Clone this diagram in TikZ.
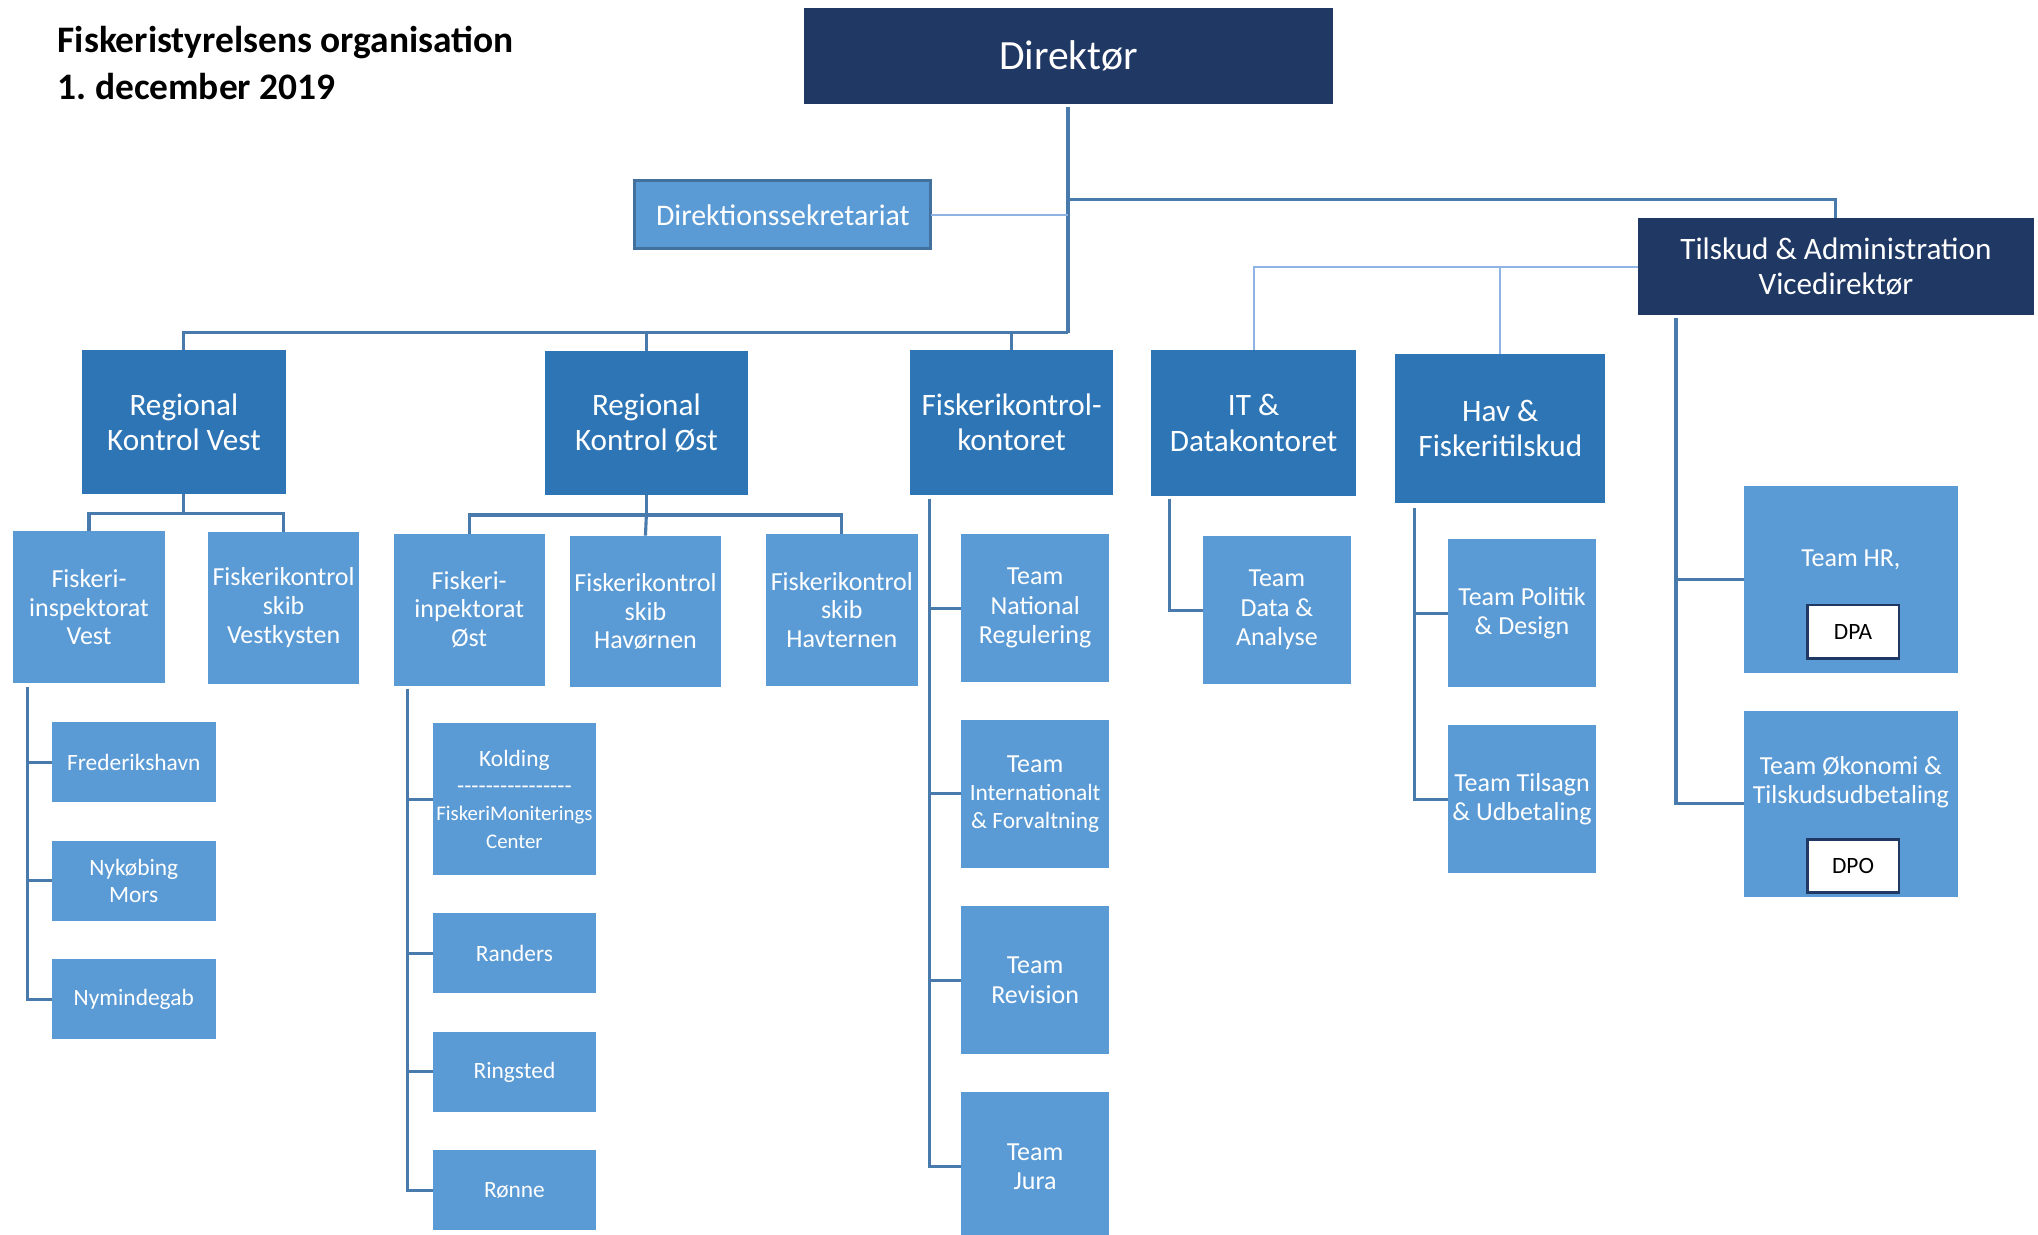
\documentclass[tikz,border=0pt]{standalone}
\usepackage{fontspec}
\setmainfont{Carlito}
\newfontfamily\dashfont{Carlito}

\definecolor{navy}{RGB}{32,56,100}
\definecolor{midblue}{RGB}{46,117,182}
\definecolor{lightblue}{RGB}{91,155,213}
\definecolor{linkblue}{RGB}{72,122,172}
\definecolor{paleblue}{RGB}{143,180,227}
\definecolor{edgeblue}{RGB}{65,113,156}

\tikzset{
  box/.style={inner sep=0pt, outer sep=0pt, align=center, text=white},
  navybox/.style={box, fill=navy},
  midbox/.style={box, fill=midblue, minimum width=78.3pt, minimum height=55.6pt,
    font=\fontsize{12}{13.5}\selectfont},
  subbox/.style={box, fill=lightblue, minimum width=58.2pt, minimum height=58.4pt,
    font=\fontsize{10}{11}\selectfont},
  locbox/.style={box, fill=lightblue, minimum width=63pt, minimum height=30.9pt,
    font=\fontsize{9}{10.5}\selectfont},
  teambox/.style={box, fill=lightblue, minimum width=57pt, minimum height=57pt,
    font=\fontsize{10}{11.3}\selectfont},
  tagbox/.style={inner sep=0pt, fill=white, draw=navy, line width=1pt, text=black,
    minimum width=35.2pt, minimum height=20.4pt, font=\fontsize{9}{10}\selectfont},
  titletext/.style={anchor=base west, inner sep=0pt, font=\fontsize{14.4}{17}\selectfont\bfseries},
  conn/.style={draw=linkblue, line width=1.2pt},
  thinconn/.style={draw=paleblue, line width=0.8pt}
}

\begin{document}
\begin{tikzpicture}[x=0.5pt,y=-0.5pt]
\useasboundingbox (0,0) rectangle (1568,950);

% title
\node[titletext] (title) at (44,40.3) {Fiskeristyrelsens organisation};
\node[titletext] (date) at (44,76.6) {1.\ december 2019};

% top level
\node[navybox, minimum width=203.5pt, minimum height=37pt, font=\fontsize{16}{19}\selectfont] (dir) at (822,43.1) {Direktør};
\node[box, fill=lightblue, draw=edgeblue, line width=1.2pt, minimum width=113.8pt, minimum height=26.2pt,
  font=\fontsize{11.5}{13}\selectfont] (sek) at (602.3,165.2) {Direktionssekretariat};
\node[navybox, minimum width=152.5pt, minimum height=37.2pt, font=\fontsize{12}{13.5}\selectfont] (til) at (1412.5,205.2) {Tilskud \& Administration\\Vicedirektør};

\coordinate (tap) at (822,153.4);
\coordinate (hub) at (822,256);

% offices
\node[midbox] (rkv) at (141.5,324.6) {Regional\\Kontrol Vest};
\node[midbox] (rko) at (497.3,325.6) {Regional\\Kontrol Øst};
\node[midbox] (fkk) at (778.3,325) {Fiskerikontrol-\\kontoret};
\node[midbox, minimum width=79pt, minimum height=56.2pt] (it) at (964.5,325.4) {IT \&\\Datakontoret};
\node[midbox, minimum width=80.8pt, minimum height=57.2pt] (hav) at (1154.3,329.5) {Hav \&\\Fiskeritilskud};

% Regional Kontrol Vest
\node[subbox] (fiv) at (68.5,467.1) {Fiskeri-\\inspektorat\\Vest};
\node[subbox] (fsv) at (218.2,467.5) {Fiskerikontrol\\skib\\Vestkysten};
\node[locbox] (fre) at (102.9,586.5) {Frederikshavn};
\node[locbox] (nyk) at (102.9,677.6) {Nykøbing\\Mors};
\node[locbox] (nym) at (102.9,768.8) {Nymindegab};

% Regional Kontrol Øst
\node[subbox] (fio) at (361,469) {Fiskeri-\\inpektorat\\Øst};
\node[subbox] (hvo) at (496.6,470.5) {Fiskerikontrol\\skib\\Havørnen};
\node[subbox] (hvt) at (647.7,469.2) {Fiskerikontrol\\skib\\Havternen};
\node[locbox, minimum height=58.4pt] (kol) at (395.8,614.8) {Kolding\\{\dashfont ----------------}\\{\fontsize{8}{9.5}\selectfont FiskeriMoniterings}\\{\fontsize{8}{9.5}\selectfont Center}};
\node[locbox] (ran) at (395.8,733.4) {Randers};
\node[locbox] (rin) at (395.8,824.7) {Ringsted};
\node[locbox] (ron) at (395.8,915.8) {Rønne};

% Fiskerikontrolkontoret
\node[teambox] (tnr) at (796.4,467.9) {Team\\National\\Regulering};
\node[teambox, font=\fontsize{9}{10.8}\selectfont] (tif) at (796.4,610.7) {{\fontsize{10}{11}\selectfont Team}\\Internationalt\\\& Forvaltning};
\node[teambox] (trv) at (796.4,754.1) {Team\\Revision};
\node[teambox] (tju) at (796.4,897.5) {Team\\Jura};

% IT, Hav, Tilskud
\node[teambox] (tda) at (982.4,469.4) {Team\\Data \&\\Analyse};
\node[teambox] (tpd) at (1171,471.8) {Team Politik\\\& Design};
\node[teambox] (ttu) at (1171,614.8) {Team Tilsagn\\\& Udbetaling};
\node[box, fill=lightblue, minimum width=82.6pt, minimum height=71.7pt] (thr) at (1424,445.8) {};
\node[box, font=\fontsize{10}{11.3}\selectfont] (thrtxt) at (1424,430.4) {Team HR,};
\node[tagbox] (dpa) at (1425.7,486) {DPA};
\node[box, fill=lightblue, minimum width=82.6pt, minimum height=71.4pt] (tok) at (1424,618.5) {};
\node[box, font=\fontsize{10}{11.3}\selectfont] (toktxt) at (1424,602) {Team Økonomi \&\\Tilskudsudbetaling};
\node[tagbox] (dpo) at (1425.7,666.1) {DPO};

% connectors
\draw[conn, line width=1.6pt] (dir.south) ++(0,2) -- (hub);
\draw[thinconn] (sek.east) -- (sek.east -| hub);
\draw[conn] (tap) -| (til.north);
\draw[conn] (rkv.north) |- (hub);
\draw[conn] (rko.north) -- (rko.north |- hub);
\draw[conn] (fkk.north) -- (fkk.north |- hub);
\draw[thinconn] (til.west) -| (it.north);
\draw[thinconn] (til.west -| hav.north) -- (hav.north);

\draw[conn] (rkv.south) -- ++(0,15) coordinate (rkvj);
\draw[conn] (fiv.north) |- (rkvj) -| (fsv.north);
\draw[conn] (fiv.south west) ++(11,3) coordinate (spv) |- (nym.west);
\foreach \n in {fre,nyk}
  \draw[conn] (\n.west) -- (\n.west -| spv);

\draw[conn] (rko.south) -- ++(0,15) coordinate (rkoj);
\draw[conn] (fio.north) |- (rkoj) -| (hvt.north);
\draw[conn] (rkoj) -- (hvo.north);
\draw[conn] (fio.south west) ++(10.6,2.5) coordinate (spo) |- (ron.west);
\foreach \n in {kol,ran,rin}
  \draw[conn] (\n.west) -- (\n.west -| spo);

\draw[conn] (fkk.south west) ++(15,3) coordinate (spf) |- (tju.west);
\foreach \n in {tnr,tif,trv}
  \draw[conn] (\n.west) -- (\n.west -| spf);

\draw[conn] (it.south west) ++(14.5,2) |- (tda.west);
\draw[conn] (hav.south west) ++(14.5,4) coordinate (sph) |- (ttu.west);
\draw[conn] (tpd.west) -- (tpd.west -| sph);
\draw[conn] (til.south west) ++(29.5,2) coordinate (spt) |- (tok.west);
\draw[conn] (thr.west) -- (thr.west -| spt);

\end{tikzpicture}
\end{document}
